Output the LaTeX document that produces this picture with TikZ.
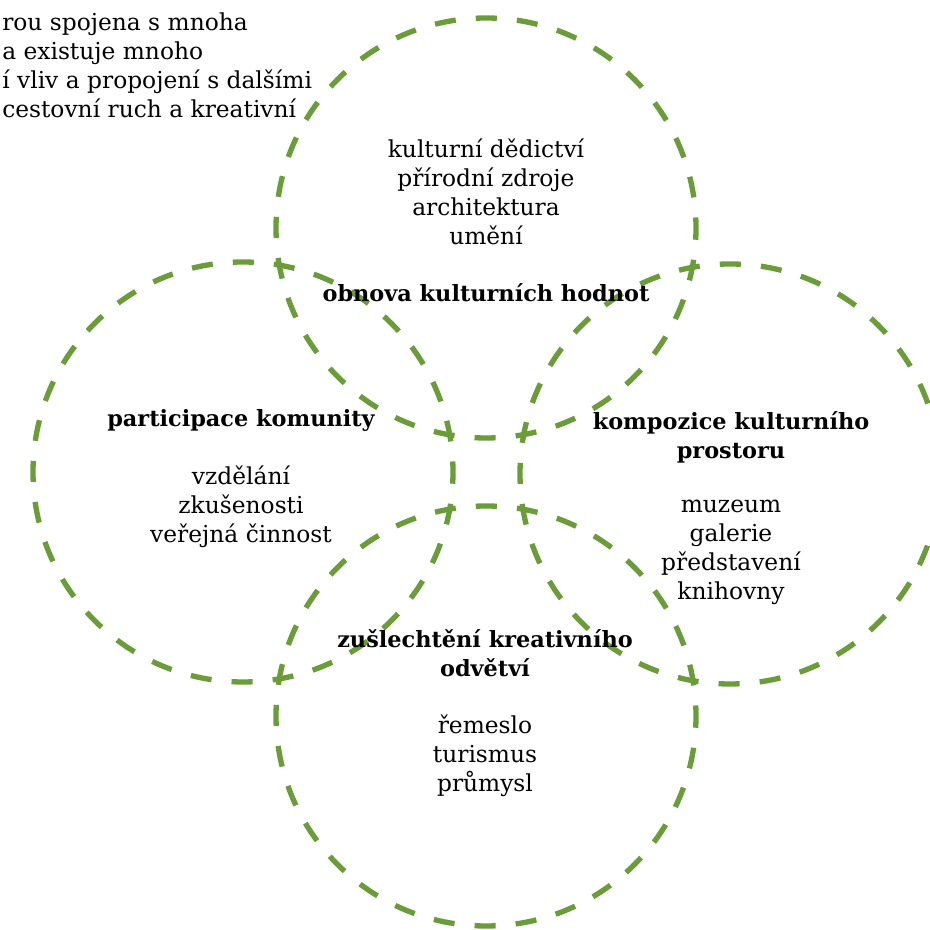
\documentclass[tikz,border=0pt]{standalone}
\usepackage{fontspec}
\setmainfont{DejaVu Serif}
\definecolor{ringgreen}{RGB}{106,156,58}

\begin{document}
\begin{tikzpicture}[x=0.75pt,y=0.75pt,
  ring/.style={circle, draw=ringgreen, line width=4pt, minimum size=315pt, inner sep=0pt,
    dash pattern=on 15.8pt off 15.1pt, dash phase=7.9pt},
  txt/.style={align=center, inner sep=0pt, font=\fontsize{17.5}{21.75}\selectfont},
  head/.style={txt, font=\fontsize{16.8}{21.75}\selectfont\bfseries}]
\useasboundingbox (0,0) rectangle (929,930);
% four rings
\node[ring](obnova) at (486,702){};
\node[ring](komunita) at (243,458){};
\node[ring](prostor) at (730,456){};
\node[ring](odvetvi) at (486,214){};
% cut text in the corner
\node[txt, align=left, anchor=west](uvod) at (2,864.5){rou spojena s mnoha\\a existuje mnoho\\í vliv a propojení s dalšími\\cestovní ruch a kreativní};
% top ring
\node[txt](obnovaList) at (486,738.5){kulturní dědictví\\přírodní zdroje\\architektura\\umění};
\node[head](obnovaHead) at (486,637){obnova kulturních hodnot};
% left ring
\node[head](komunitaHead) at (241,510){participace komunity};
\node[txt](komunitaList) at (241,423){vzdělání\\zkušenosti\\veřejná činnost};
% right ring
\node[head](prostorHead) at (731,492.5){kompozice kulturního\\prostoru};
\node[txt](prostorList) at (731,377.5){muzeum\\galerie\\představení\\knihovny};
% bottom ring
\node[head](odvetviHead) at (485,276.5){zušlechtění kreativního\\odvětví};
\node[txt](odvetviList) at (485,174){řemeslo\\turismus\\průmysl};
\end{tikzpicture}
\end{document}
